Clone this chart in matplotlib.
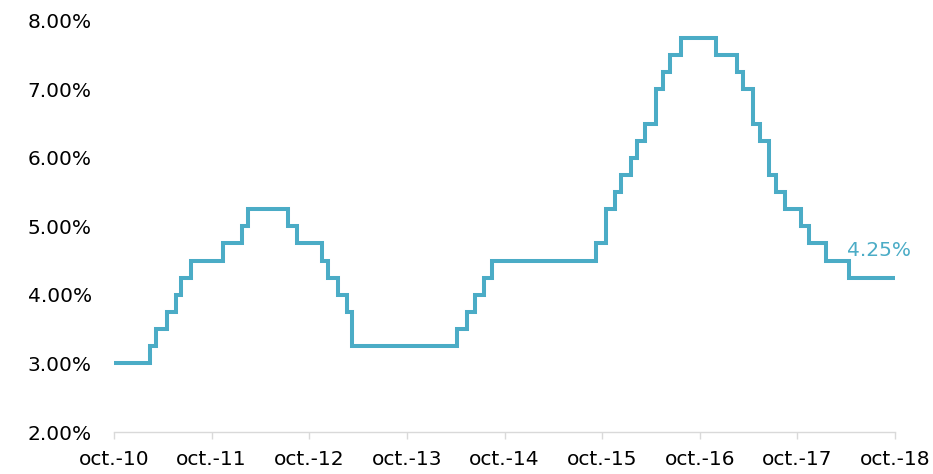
import matplotlib
matplotlib.use('Agg')
from matplotlib import pyplot as plt
from matplotlib.ticker import FuncFormatter
import pandas as pd

# policy rate changes (date of change, new rate in %)
change_dates = [
    '2010-10-01', '2011-02-13', '2011-03-08', '2011-04-19', '2011-05-22',
    '2011-06-10', '2011-07-17', '2011-11-12', '2012-01-21', '2012-02-14',
    '2012-07-12', '2012-08-14', '2012-11-16', '2012-12-09', '2013-01-16',
    '2013-02-18', '2013-03-11', '2014-04-08', '2014-05-15', '2014-06-11',
    '2014-07-18', '2014-08-17', '2015-09-09', '2015-10-16', '2015-11-17',
    '2015-12-11', '2016-01-19', '2016-02-07', '2016-03-08', '2016-04-18',
    '2016-05-15', '2016-06-10', '2016-07-23', '2016-12-02', '2017-02-15',
    '2017-03-10', '2017-04-17', '2017-05-12', '2017-06-18', '2017-07-13',
    '2017-08-14', '2017-10-15', '2017-11-15', '2018-01-17', '2018-04-13',
    '2018-09-22',
]
rates = [
    3.00, 3.25, 3.50, 3.75, 4.00,
    4.25, 4.50, 4.75, 5.00, 5.25,
    5.00, 4.75, 4.50, 4.25, 4.00,
    3.75, 3.25, 3.50, 3.75, 4.00,
    4.25, 4.50, 4.75, 5.25, 5.50,
    5.75, 6.00, 6.25, 6.50, 7.00,
    7.25, 7.50, 7.75, 7.50, 7.25,
    7.00, 6.50, 6.25, 5.75, 5.50,
    5.25, 5.00, 4.75, 4.50, 4.25,
    4.25,
]
tick_years = list(range(2010, 2019))
tick_labels = [f'oct.-{y % 100:02d}' for y in tick_years]

line_color = '#4bacc6'

dates = pd.to_datetime(change_dates)
ticks = pd.to_datetime([f'{y}-10-01' for y in tick_years])

fig = plt.figure(figsize=(9.33, 4.74), dpi=100)
ax = fig.add_axes([0.1222, 0.0886, 0.8371, 0.8677])

ax.plot(dates, rates, drawstyle='steps-post', color=line_color, lw=2.9,
        solid_joinstyle='miter')

ax.annotate(f'{rates[-1]:.2f}%', xy=(dates[-1], rates[-1]),
            xytext=(-33, 19.5), textcoords='offset points',
            ha='left', va='center', color=line_color, fontsize=14.5)

ax.set_ylim(2, 8)
ax.set_xlim(ticks[0], ticks[-1])
ax.set_yticks(range(2, 9))
ax.yaxis.set_major_formatter(FuncFormatter(lambda v, p: f'{v:.2f}%'))
ax.set_xticks(ticks)
ax.set_xticklabels(tick_labels)

for s in ['top', 'right', 'left']:
    ax.spines[s].set_visible(False)
ax.spines['bottom'].set_color('#d9d9d9')
ax.spines['bottom'].set_linewidth(1)
ax.spines['bottom'].set_zorder(0)
ax.tick_params(axis='y', length=0, pad=16, labelsize=14.5, labelcolor='#000000')
ax.tick_params(axis='x', direction='out', length=5, width=1, color='#d9d9d9',
               pad=8, labelsize=14.5, labelcolor='#000000')

fig.savefig('out.png', dpi=100)
